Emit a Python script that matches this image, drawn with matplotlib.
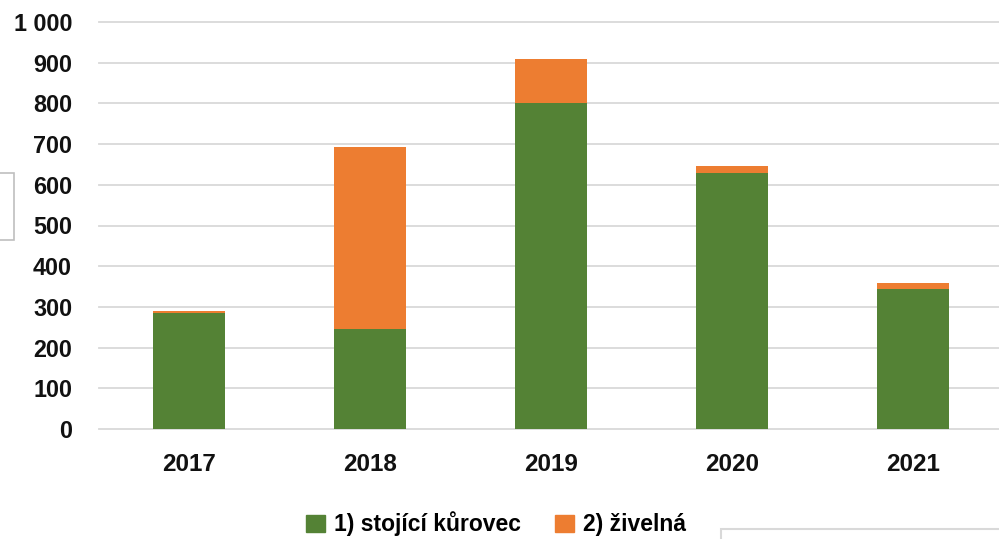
import matplotlib
matplotlib.use("Agg")
import matplotlib.pyplot as plt
from matplotlib.patches import Rectangle
import numpy as np

# data
years = ["2017", "2018", "2019", "2020", "2021"]
kurovec = [285, 246, 800, 630, 344]   # 1) stojící kůrovec
zivelna = [5, 448, 110, 15, 14]       # 2) živelná
yticks = [0, 100, 200, 300, 400, 500, 600, 700, 800, 900, 1000]

green = "#548235"
orange = "#ED7D31"
grid_c = "#D9D9D9"

plt.rcParams['font.family'] = ['Liberation Sans', 'DejaVu Sans']
plt.rcParams['font.weight'] = 'bold'

W, H = 999, 539
fig = plt.figure(figsize=(W / 100, H / 100), dpi=100)
ax = fig.add_axes([98.5 / W, 110 / H, 905 / W, 407 / H])

x = np.arange(len(years))
ax.bar(x, kurovec, width=0.4, color=green, zorder=3)
ax.bar(x, zivelna, width=0.4, bottom=kurovec, color=orange, zorder=3)

ax.set_xlim(-0.5, 4.5)
ax.set_ylim(0, 1000)
ax.set_yticks(yticks)
ax.set_yticklabels([f"{v:,}".replace(",", " ") for v in yticks])
ax.set_xticks(x)
ax.set_xticklabels(years)
ax.tick_params(axis='y', length=0, pad=19, labelsize=16.8, labelcolor="#111111")
ax.tick_params(axis='x', length=0, pad=17, labelsize=17.5, labelcolor="#111111")
for v in yticks:
    ax.axhline(v, color=grid_c, lw=1.3, zorder=1, clip_on=False)
for s in ax.spines.values():
    s.set_visible(False)

# legend
handles = [Rectangle((0, 0), 1, 1, color=green), Rectangle((0, 0), 1, 1, color=orange)]
fig.legend(handles, ["1) stojící kůrovec", "2) živelná"], loc='center',
           bbox_to_anchor=(496 / W, 1 - 524 / H), ncol=2, frameon=False,
           fontsize=16.5, handlelength=0.8, handleheight=0.8, handletextpad=0.4,
           columnspacing=1.5)

# stray boxes visible in the screenshot
fig.add_artist(Rectangle((-2 / W, 1 - 240 / H), 16 / W, 67 / H, transform=fig.transFigure,
                         fill=False, edgecolor="#BFBFBF", lw=1.2))
fig.add_artist(Rectangle((721 / W, -10 / H), 300 / W, (10 + 539 - 529) / H,
                         transform=fig.transFigure, fill=False, edgecolor="#D9D9D9", lw=1.5))

fig.savefig("out.png", dpi=100)
